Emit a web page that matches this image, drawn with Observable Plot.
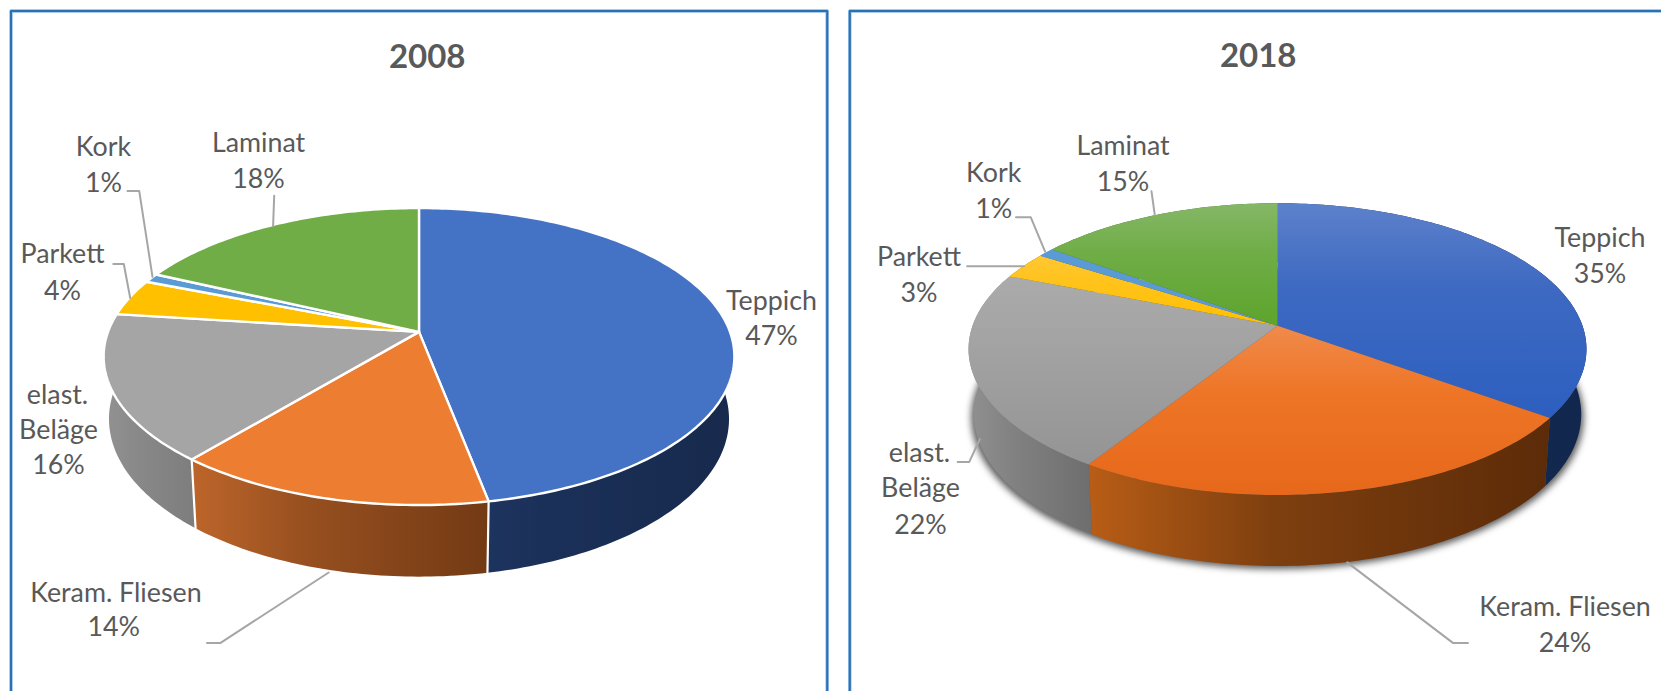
<!DOCTYPE html>
<html>
<head>
<meta charset="utf-8">
<script src="https://cdn.jsdelivr.net/npm/d3@7"></script>
<script src="https://cdn.jsdelivr.net/npm/@observablehq/plot@0.6"></script>
<style>html,body{margin:0;padding:0;background:#fff}svg{display:block}</style>
</head>
<body>
<div id="chart"></div>
<script>
// ---- data ----
const categories = ["Teppich", "Keram. Fliesen", "elast. Beläge", "Parkett", "Kork", "Laminat"];
const values2008 = [47, 14, 16, 4, 1, 18];
const values2018 = [35, 24, 22, 3, 1, 15];
const years = ["2008", "2018"];

// ---- layout ----
const W = 1661, H = 691;
const geom2008 = {cx: 418.5, apex: 331.4, a: 89.4, c: -0.166, R: 311, d0: 71.4, y0: 501.5, slope: 0.0615, s: 0.983};
const geom2018 = {cx: 1277, apex: 325.3, a: 90.2, c: -0.1597, R: 305, d0: 69.8, y0: 463.6, slope: 0.04, s: 0.983};
const panel2008 = [[10.5, H + 5], [10.5, 10.5], [826.7, 10.5], [826.7, H + 5]];
const panel2018 = [[849.3, H + 5], [849.3, 10.5], [W + 5, 10.5]];
const titlePos = [[426.7, 57.3], [1257.7, 56]];
// label lines: [text, x, y]
const labelLayout2008 = [
  ["Teppich", 771, 301], ["47%", 771, 336.3],
  ["Keram. Fliesen", 115.4, 592.8], ["14%", 113.3, 627.2],
  ["elast.", 57, 395.3], ["Beläge", 58, 429.7], ["16%", 58, 465],
  ["Parkett", 62, 254.3], ["4%", 62, 290.9],
  ["Kork", 103, 146.8], ["1%", 103, 182.9],
  ["Laminat", 258, 143.2], ["18%", 258, 178.9]
];
const labelLayout2018 = [
  ["Teppich", 1599.5, 238], ["35%", 1599.5, 274],
  ["Keram. Fliesen", 1564.5, 606.9], ["24%", 1564.5, 642.6],
  ["elast.", 919, 453], ["Beläge", 920, 488.3], ["22%", 920, 524.5],
  ["Parkett", 918.5, 257], ["3%", 918.5, 293],
  ["Kork", 993.2, 172.8], ["1%", 993.2, 208.5],
  ["Laminat", 1122.5, 146.3], ["15%", 1122.5, 181.6]
];
const leaders = [
  [[273.7, 195.2], [272.6, 225.6]],
  [[127, 190.4], [138.7, 190.4], [152, 276.3]],
  [[112.8, 263.5], [123.3, 263.5], [129.7, 297.5]],
  [[206.5, 642.6], [219.7, 642.6], [328.2, 572]],
  [[1151, 190.8], [1154.3, 214.6]],
  [[1015.5, 216.8], [1030.3, 216.8], [1044.6, 251.2]],
  [[966.7, 265.8], [1023.4, 265.8]],
  [[957.2, 461.4], [968.8, 461.4], [979.4, 438.5]],
  [[1467.5, 642.6], [1452.7, 642.6], [1346.7, 561.9]]
];

// ---- styles ----
const textColor = "#595959";
const frameColor = "#2a71b3";
const frameHalo = "#8db9e2";
const leaderColor = "#a6a6a6";
const font = "Lato";
const topFlat = ["#4472c4", "#ed7d31", "#a5a5a5", "#ffc000", "#5b9bd5", "#70ad47"];
const topGrad = [
  ["#5d81cb", "#3d69c1", "#2d5fc0"],
  ["#f08a4b", "#ee7526", "#e7681a"],
  ["#ababab", "#a2a2a2", "#949494"],
  ["#ffc733", "#ffc31a", "#ffc000"],
  ["#5b9bd5", "#5b9bd5", "#5b9bd5"],
  ["#85b767", "#70ad47", "#5da42c"]
];
const side2008 = [["#1f3864", "#1b3059", "#172a4d"], ["#bd652a", "#964f1f", "#733a14"], ["#929292", "#888888", "#7d7d7d"], ["#997300", "#997300", "#997300"], ["#2e75b6", "#2e75b6", "#2e75b6"], ["#43682b", "#43682b", "#43682b"]];
const side2018 = [["#17315f", "#142b55", "#12274d"], ["#b85d16", "#7e3f0f", "#5c2b08"], ["#909090", "#808080", "#6e6e6e"], ["#997300", "#997300", "#997300"], ["#2e75b6", "#2e75b6", "#2e75b6"], ["#43682b", "#43682b", "#43682b"]];

// ---- geometry built from the values ----
function project(g, theta) {
  const u = Math.sin(theta), v = -Math.cos(theta), w = 1 + g.c * v;
  return [g.cx + g.R * u / w, (g.a * v + g.apex) / w];
}
function lower(g, [x, y]) {
  return [g.cx + (x - g.cx) * g.s, y + g.d0 + (y - g.y0) * g.slope];
}
function slices(values, g, year) {
  const total = d3.sum(values);
  let acc = 0;
  const tops = [], sides = [], seams = [];
  values.forEach((val, i) => {
    const t0 = acc / total * 2 * Math.PI;
    acc += val;
    const t1 = acc / total * 2 * Math.PI;
    const n = Math.ceil((t1 - t0) / (Math.PI / 180));
    const arc = d3.range(n + 1).map(k => project(g, t0 + (t1 - t0) * k / n));
    const topKey = `${year}-top-${i}`, sideKey = `${year}-side-${i}`;
    const topPts = [[g.cx, g.apex], ...arc, [g.cx, g.apex]];
    const low = arc.map(p => lower(g, p)).reverse();
    const sidePts = [...arc, ...low, arc[0]];
    topPts.forEach(p => tops.push({key: topKey, i, x: p[0], y: p[1]}));
    sidePts.forEach(p => sides.push({key: sideKey, i, x: p[0], y: p[1]}));
    [arc[0], lower(g, arc[0])].forEach(p => seams.push({key: `${year}-seam-${i}`, x: p[0], y: p[1]}));
  });
  return {tops, sides, seams};
}
const s2008 = slices(values2008, geom2008, "2008");
const s2018 = slices(values2018, geom2018, "2018");

const shadow2018 = d3.range(0, 361, 2).map(deg => {
  const [x, y] = lower(geom2018, project(geom2018, deg * Math.PI / 180));
  return {x: geom2018.cx + (x - geom2018.cx) * 1.008, y: y + 3};
});

// gradients
function defsMark() {
  const defs = d3.create("svg:defs");
  const add = (id, stops, vertical) => {
    const g = defs.append("linearGradient").attr("id", id)
      .attr("x1", 0).attr("y1", 0).attr("x2", vertical ? 0 : 1).attr("y2", vertical ? 1 : 0);
    stops.forEach((c, k) => g.append("stop").attr("offset", k === 1 ? 0.4 : k / 2).attr("stop-color", c));
  };
  topGrad.forEach((c, i) => add(`top18-${i}`, c, true));
  side2008.forEach((c, i) => add(`side08-${i}`, c, false));
  side2018.forEach((c, i) => add(`side18-${i}`, c, false));
  return defs.node();
}
const blur = amount => (index, scales, channels, dims, ctx, next) => {
  const g = next(index, scales, channels, dims, ctx);
  g.style.filter = `blur(${amount}px)`;
  return g;
};
const labelsOf = layout => layout.map(([text, x, y]) => ({text, x, y}));

const chart = Plot.plot({
  width: W, height: H,
  margin: 0,
  style: {background: "#fff", overflow: "hidden"},
  x: {domain: [0, W], range: [0, W], axis: null},
  y: {domain: [0, H], range: [0, H], axis: null},
  marks: [
    defsMark,
    Plot.line(panel2008, {x: d => d[0], y: d => d[1], stroke: frameHalo, strokeWidth: 3.4}),
    Plot.line(panel2018, {x: d => d[0], y: d => d[1], stroke: frameHalo, strokeWidth: 3.4}),
    Plot.line(panel2008, {x: d => d[0], y: d => d[1], stroke: frameColor, strokeWidth: 2}),
    Plot.line(panel2018, {x: d => d[0], y: d => d[1], stroke: frameColor, strokeWidth: 2}),
    // 2018 shadow
    Plot.line(shadow2018, {x: "x", y: "y", fill: "#222", fillOpacity: 0.75, stroke: "none", render: blur(3.5)}),
    // sides
    Plot.line(s2008.sides, {x: "x", y: "y", z: "key", fill: d => `url(#side08-${d.i})`, stroke: "none"}),
    Plot.line(s2008.seams, {x: "x", y: "y", z: "key", stroke: "#fff", strokeWidth: 2.2}),
    Plot.line(s2018.sides, {x: "x", y: "y", z: "key", fill: d => `url(#side18-${d.i})`, stroke: "none"}),
    // tops
    Plot.line(s2008.tops, {x: "x", y: "y", z: "key", fill: d => topFlat[d.i], stroke: "#fff", strokeWidth: 2.4, strokeLinejoin: "round"}),
    Plot.line(s2018.tops, {x: "x", y: "y", z: "key", fill: d => `url(#top18-${d.i})`, stroke: "none"}),
    // leader lines
    ...leaders.map(l => Plot.line(l, {x: d => d[0], y: d => d[1], stroke: leaderColor, strokeWidth: 2})),
    // labels
    Plot.text(labelsOf(labelLayout2008), {x: "x", y: "y", text: "text", fill: textColor, fontFamily: font, fontSize: 26.8, lineAnchor: "middle"}),
    Plot.text(labelsOf(labelLayout2018), {x: "x", y: "y", text: "text", fill: textColor, fontFamily: font, fontSize: 26.8, lineAnchor: "middle"}),
    Plot.text(years.map((t, i) => ({text: t, x: titlePos[i][0], y: titlePos[i][1]})), {x: "x", y: "y", text: "text", fill: textColor, fontFamily: font, fontWeight: "bold", fontSize: 33, lineAnchor: "middle"})
  ],
  color: {type: "identity"}
});
document.getElementById("chart").append(chart);
</script>
</body>
</html>
